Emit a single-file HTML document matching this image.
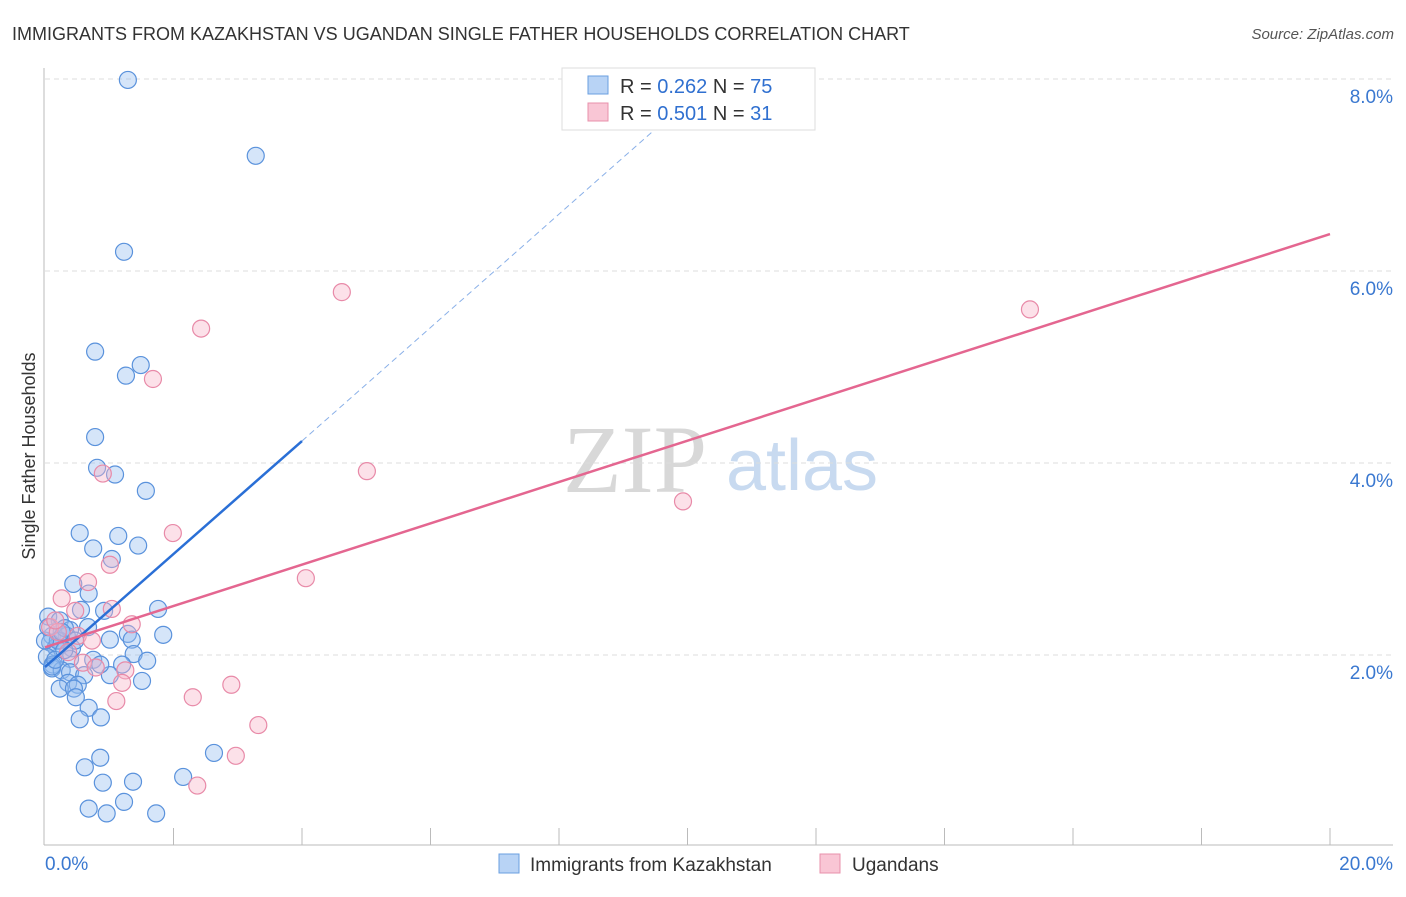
<!DOCTYPE html>
<html><head><meta charset="utf-8"><style>
body{margin:0;background:#fff;font-family:"Liberation Sans",sans-serif}
</style></head><body>
<svg width="1406" height="892" xmlns="http://www.w3.org/2000/svg" id="svg">
<text x="12" y="40" font-size="18" fill="#333">IMMIGRANTS FROM KAZAKHSTAN VS UGANDAN SINGLE FATHER HOUSEHOLDS CORRELATION CHART</text>
<text x="1394" y="39" font-size="15" fill="#555" text-anchor="end" font-style="italic">Source: ZipAtlas.com</text>
<g>
<text x="635" y="492" font-size="96" fill="#d8d8d8" text-anchor="middle" font-family="Liberation Serif,serif">ZIP</text>
<text x="802" y="490" font-size="72" fill="#c8daf0" text-anchor="middle">atlas</text>
</g>
<g id="grid"></g>
<g id="axes"></g>
<g id="pts"></g>
<g id="lines"></g>
<text x="35" y="456" font-size="18" fill="#333" text-anchor="middle" transform="rotate(-90 35 456)">Single Father Households</text>
<g>
<rect x="562" y="68" width="253" height="62" fill="#fff" stroke="#ddd"/>
<rect x="588" y="76" width="20" height="18" fill="#b8d3f5" stroke="#6a9fe0"/>
<rect x="588" y="103" width="20" height="18" fill="#f9c6d5" stroke="#e890ab"/>
<text x="620" y="93" font-size="20" fill="#333">R = <tspan fill="#3070d0">0.262</tspan>   N = <tspan fill="#3070d0">75</tspan></text>
<text x="620" y="120" font-size="20" fill="#333">R = <tspan fill="#3070d0">0.501</tspan>   N = <tspan fill="#3070d0"> 31</tspan></text>
</g>
<g>
<rect x="499" y="854" width="20" height="19" fill="#b8d3f5" stroke="#6a9fe0"/>
<text x="530" y="871" font-size="19" fill="#333">Immigrants from Kazakhstan</text>
<rect x="820" y="854" width="20" height="19" fill="#f9c6d5" stroke="#e890ab"/>
<text x="852" y="871" font-size="19" fill="#333">Ugandans</text>
</g>
</svg>
<script>
const yTicks=[2,4,6,8];
const yTickLabels=["2.0%","4.0%","6.0%","8.0%"];
const xTickLabels=["0.0%","20.0%"];
const blueX=[1.29,3.28,1.23,0.78,1.49,1.26,0.78,0.81,1.09,1.57,0.54,1.14,0.75,1.45,1.04,0.44,0.68,1.76,0.56,0.92,0.05,0.23,0.67,0.39,1.29,1.84,0.11,0.34,1.01,1.35,0.23,0.08,0.17,0.42,1.38,0.03,0.39,0.75,1.59,1.2,0.12,0.11,0.26,0.39,1.01,0.61,1.51,0.36,0.51,0.23,0.45,0.48,0.68,0.87,0.54,2.63,0.86,0.62,2.15,0.9,1.37,0.68,1.23,0.96,1.73,0.11,0.2,0.31,0.0,0.16,0.26,0.47,0.05,0.86,0.3];
const blueY=[7.99,7.2,6.2,5.16,5.02,4.91,4.27,3.95,3.88,3.71,3.27,3.24,3.11,3.14,3.0,2.74,2.64,2.48,2.47,2.46,2.4,2.36,2.29,2.26,2.22,2.21,2.2,2.2,2.16,2.16,2.15,2.13,2.08,2.07,2.01,1.98,1.96,1.95,1.94,1.9,1.9,1.86,1.84,1.82,1.79,1.79,1.73,1.71,1.69,1.65,1.65,1.56,1.45,1.35,1.33,0.98,0.93,0.83,0.73,0.67,0.68,0.4,0.47,0.35,0.35,1.88,2.15,2.28,2.15,1.95,2.24,2.15,2.29,1.9,2.05];
const pinkX=[4.62,2.43,1.68,15.33,5.01,9.93,1.99,0.9,1.01,0.67,0.26,0.47,1.04,4.06,1.35,0.08,0.2,0.51,0.73,0.59,0.79,1.25,1.2,2.3,2.9,1.11,3.32,2.97,2.37,0.16,0.36];
const pinkY=[5.78,5.4,4.875,5.6,3.915,3.6,3.27,3.89,2.94,2.76,2.59,2.46,2.48,2.8,2.32,2.29,2.24,2.2,2.15,1.92,1.87,1.84,1.71,1.56,1.69,1.52,1.27,0.95,0.64,2.36,2.03];
const blueLine=[[0,1.875],[4.0,4.229]];
const blueDash=[[4.0,4.229],[9.57,7.52]];
const pinkLine=[[0,2.08],[20,6.385]];
const sx=v=>45+v*64.25, sy=v=>847-v*96;
const NS="http://www.w3.org/2000/svg";
function mk(t,a,p){const e=document.createElementNS(NS,t);for(const k in a)e.setAttribute(k,a[k]);document.getElementById(p).appendChild(e);return e;}
yTicks.forEach((t,i)=>{
 const l=mk('line',{x1:45,x2:1393,y1:sy(t),y2:sy(t),stroke:'#ddd','stroke-dasharray':'5,4'},'grid');
 
 
 const tx=mk('text',{x:1393,y:sy(t)+24,'font-size':19,fill:'#3a78d0','text-anchor':'end'},'axes');
 tx.textContent=yTickLabels[i];
 
 
});
let a=mk('line',{x1:44,x2:44,y1:68,y2:845,stroke:'#bbb'},'axes');


a=mk('line',{x1:44,x2:1393,y1:845,y2:845,stroke:'#bbb'},'axes');


for(let i=1;i<=10;i++){const t=mk('line',{x1:sx(i*2),x2:sx(i*2),y1:828,y2:845,stroke:'#bbb'},'axes');
 
 }
[[0,'start',45],[20,'end',1393]].forEach((d,i)=>{const t=mk('text',{x:d[2],y:870,'font-size':19,fill:'#3a78d0','text-anchor':d[1]},'axes');t.textContent=xTickLabels[i];
 
 });
blueX.forEach((x,i)=>{const c=mk('circle',{cx:sx(x),cy:sy(blueY[i]),r:8.5,fill:'rgba(150,190,240,0.4)',stroke:'#5a92dc','stroke-width':1.2},'pts');
 
 });
pinkX.forEach((x,i)=>{const c=mk('circle',{cx:sx(x),cy:sy(pinkY[i]),r:8.5,fill:'rgba(248,180,200,0.4)',stroke:'#e88aa8','stroke-width':1.2},'pts');
 
 });
let L=mk('line',{x1:sx(blueLine[0][0]),y1:sy(blueLine[0][1]),x2:sx(blueLine[1][0]),y2:sy(blueLine[1][1]),stroke:'#2a6fd6','stroke-width':2.5},'lines');


L=mk('line',{x1:sx(blueDash[0][0]),y1:sy(blueDash[0][1]),x2:sx(blueDash[1][0]),y2:sy(blueDash[1][1]),stroke:'#8ab0e8','stroke-width':1,'stroke-dasharray':'6,4'},'lines');


L=mk('line',{x1:sx(pinkLine[0][0]),y1:sy(pinkLine[0][1]),x2:sx(pinkLine[1][0]),y2:sy(pinkLine[1][1]),stroke:'#e46690','stroke-width':2.5},'lines');


</script>
</body></html>
